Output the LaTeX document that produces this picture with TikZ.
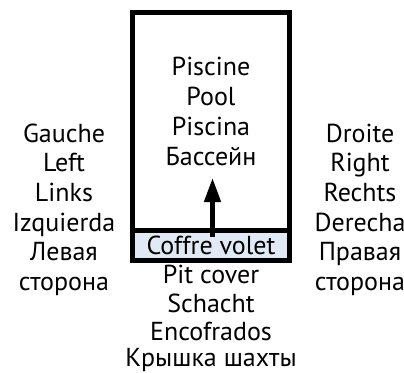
\documentclass[tikz,border=0pt]{standalone}
\usepackage{fontspec}
\setmainfont{PT Sans}
\usetikzlibrary{arrows.meta}
\definecolor{coverblue}{HTML}{E1EAF4}
\tikzset{
  lbl/.style={anchor=base, inner sep=0pt, font=\fontsize{26}{30}\selectfont},
  wall/.style={draw=black, line width=5pt},
  lift/.style={line width=4.5pt, -{Triangle[width=16pt,length=24pt]}}
}
\begin{document}
\begin{tikzpicture}[x=1pt, y=-1pt]
  \useasboundingbox (0,0) rectangle (404,372);
  \clip (0,0) rectangle (404,372);
  % pit cover strip and basin outline
  \fill[coverblue] (135,233) rectangle (287,258);
  \draw[wall] (132.5,12.5) rectangle (289.5,260.5);
  \draw[wall] (132.5,230.5) -- (289.5,230.5);
  % lifting arrow
  \coordinate (liftfoot) at (212.5,237);
  \coordinate (lifttip) at (212.5,178);
  \draw[lift] (liftfoot) -- (lifttip);
  % basin names
  \node[lbl] (p1) at (211,75) {Piscine};
  \node[lbl] (p2) at (211,105) {Pool};
  \node[lbl] (p3) at (211,135) {Piscina};
  \node[lbl] (p4) at (211,165) {Бассейн};
  % left side
  \node[lbl] (l1) at (64,142) {Gauche};
  \node[lbl] (l2) at (64,171.5) {Left};
  \node[lbl] (l3) at (64,201) {Links};
  \node[lbl] (l4) at (64,231) {Izquierda};
  \node[lbl] (l5) at (64,260.5) {Левая};
  \node[lbl] (l6) at (64,290) {сторона};
  % right side
  \node[lbl] (r1) at (360,142) {Droite};
  \node[lbl] (r2) at (360,171.5) {Right};
  \node[lbl] (r3) at (360,201) {Rechts};
  \node[lbl] (r4) at (360,231) {Derecha};
  \node[lbl] (r5) at (360,260.5) {Правая};
  \node[lbl] (r6) at (360,290) {сторона};
  % pit cover names
  \node[lbl] (c1) at (211,254) {Coffre volet};
  \node[lbl] (c2) at (211,283) {Pit cover};
  \node[lbl] (c3) at (211,312) {Schacht};
  \node[lbl] (c4) at (211,340) {Encofrados};
  \node[lbl] (c5) at (211,366) {Крышка шахты};
\end{tikzpicture}
\end{document}
